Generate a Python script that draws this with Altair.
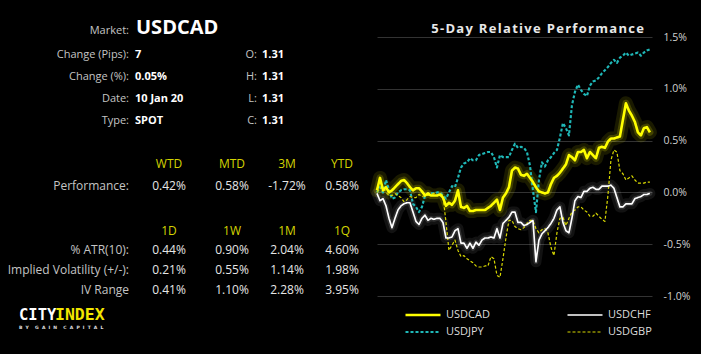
import altair as alt
import pandas as pd

# ---------------- data ----------------
SERIES = ["USDCAD", "USDCHF", "USDJPY", "USDGBP"]
LEGEND_ORDER = ["USDCAD", "USDJPY", "USDCHF", "USDGBP"]   # column-major fill

CAD = [0.02, 0.14, 0.02, 0.05, 0.00, 0.02, 0.05, 0.08, 0.11, 0.12,
       0.09, 0.05, 0.02, 0.04, 0.04, 0.01, -0.03, -0.01, -0.03, -0.03,
       -0.03, -0.02, -0.05, -0.13, -0.10, -0.12, -0.08, 0.02, -0.14, -0.15,
       -0.13, -0.18, -0.18, -0.17, -0.17, -0.17, -0.17, -0.15, -0.13, -0.10,
       -0.07, -0.17, -0.05, -0.01, 0.05, 0.21, 0.24, 0.23, 0.17, 0.16,
       0.18, 0.14, 0.10, 0.05, 0.01, 0.00, -0.01, 0.00, 0.08, 0.14,
       0.16, 0.19, 0.23, 0.27, 0.36, 0.34, 0.31, 0.39, 0.39, 0.41,
       0.33, 0.39, 0.36, 0.33, 0.43, 0.44, 0.43, 0.49, 0.52, 0.52,
       0.53, 0.54, 0.70, 0.86, 0.79, 0.74, 0.68, 0.58, 0.55, 0.62,
       0.63, 0.58]

CHF = [-0.01, -0.08, -0.06, -0.13, -0.25, -0.34, -0.25, -0.17, -0.13, -0.11,
       -0.10, -0.10, -0.19, -0.28, -0.31, -0.25, -0.22, -0.27, -0.25, -0.26,
       -0.25, -0.25, -0.29, -0.44, -0.44, -0.43, -0.37, -0.35, -0.49, -0.49,
       -0.54, -0.49, -0.54, -0.48, -0.51, -0.46, -0.44, -0.44, -0.43, -0.44,
       -0.35, -0.44, -0.30, -0.27, -0.24, -0.19, -0.19, -0.29, -0.29, -0.32,
       -0.31, -0.29, -0.27, -0.67, -0.46, -0.40, -0.37, -0.34, -0.30, -0.25,
       -0.17, -0.14, -0.29, -0.37, -0.39, -0.25, -0.08, -0.04, -0.05, 0.01,
       0.01, 0.04, 0.05, 0.03, 0.03, 0.06, 0.06, 0.06, 0.07, 0.04,
       -0.05, -0.14, -0.14, -0.11, -0.11, -0.11, -0.06, -0.05, -0.04, -0.02,
       -0.02, -0.01]

JPY = [0.00, 0.05, 0.00, 0.12, 0.02, -0.06, -0.05, 0.00, 0.02, 0.03,
       0.03, 0.02, -0.11, -0.14, -0.19, -0.14, -0.03, -0.01, -0.01, -0.01,
       0.00, 0.00, -0.03, -0.06, 0.00, 0.06, 0.05, 0.14, 0.24, 0.28,
       0.29, 0.33, 0.31, 0.31, 0.36, 0.37, 0.38, 0.39, 0.39, 0.34,
       0.24, 0.36, 0.34, 0.34, 0.34, 0.41, 0.47, 0.43, 0.44, 0.43,
       0.39, 0.26, 0.02, -0.19, 0.12, 0.29, 0.25, 0.31, 0.34, 0.38,
       0.41, 0.53, 0.67, 0.62, 0.55, 0.84, 0.97, 1.04, 0.99, 0.95,
       0.93, 1.03, 1.07, 1.08, 1.11, 1.15, 1.18, 1.21, 1.25, 1.28,
       1.25, 1.30, 1.32, 1.35, 1.32, 1.33, 1.34, 1.35, 1.32, 1.35,
       1.37, 1.38]

GBP = [0.00, 0.04, 0.05, 0.00, -0.03, -0.03, -0.01, -0.03, -0.05, -0.09,
       -0.07, -0.04, -0.05, -0.05, -0.02, -0.04, -0.03, -0.03, -0.02, -0.01,
       -0.03, -0.01, -0.03, -0.29, -0.56, -0.51, -0.46, -0.56, -0.62, -0.61,
       -0.64, -0.66, -0.68, -0.71, -0.72, -0.72, -0.71, -0.71, -0.62, -0.64,
       -0.80, -0.82, -0.64, -0.44, -0.27, -0.27, -0.33, -0.35, -0.36, -0.34,
       -0.30, -0.27, -0.27, -0.35, -0.39, -0.36, -0.35, -0.39, -0.53, -0.61,
       -0.39, -0.25, -0.24, -0.32, -0.25, -0.19, -0.17, -0.14, -0.14, -0.17,
       -0.19, -0.23, -0.23, -0.20, -0.23, -0.26, -0.28, -0.03, 0.31, 0.41,
       0.39, 0.21, 0.18, 0.12, 0.14, 0.16, 0.12, 0.09, 0.09, 0.09,
       0.10, 0.10]

Y_TICKS = [-1.0, -0.5, 0.0, 0.5, 1.0, 1.5]

TITLE = "5-Day Relative Performance"
MARKET = "USDCAD"
INFO_LABELS = ["Change (Pips):", "Change (%):", "Date:", "Type:"]
INFO_VALUES = ["7", "0.05%", "10 Jan 20", "SPOT"]
OHLC_LABELS = ["O:", "H:", "L:", "C:"]
OHLC_VALUES = ["1.31", "1.31", "1.31", "1.31"]
PERF_HEADERS = ["WTD", "MTD", "3M", "YTD"]
PERF_VALUES = ["0.42%", "0.58%", "-1.72%", "0.58%"]
VOL_HEADERS = ["1D", "1W", "1M", "1Q"]
VOL_LABELS = ["% ATR(10):", "Implied Volatility (+/-):", "IV Range"]
VOL_VALUES = [["0.44%", "0.90%", "2.04%", "4.60%"],
              ["0.21%", "0.55%", "1.14%", "1.98%"],
              ["0.41%", "1.10%", "2.28%", "3.95%"]]
LOGO_A, LOGO_B = "CITY", "INDEX"
LOGO_SUB = "BY GAIN CAPITAL"

# ---------------- styles / layout ----------------
STYLE = {  # colour, dash, width per series
    "USDCAD": ("#ffff00", [1, 0], 2.6),
    "USDCHF": ("#ffffff", [1, 0], 1.3),
    "USDJPY": ("#1fb8b8", [3, 2], 1.2),
    "USDGBP": ("#d8d800", [3, 2], 1.2),
}

OX, OY = 377, 37          # plot origin on the page
PW, PH = 275, 259         # plot size
FONT = "Open Sans"
GREY = "#c4c4c4"
HEAD = "#d4d400"

rows = []
for name, vals in zip(SERIES, [CAD, CHF, JPY, GBP]):
    for i, v in enumerate(vals):
        rows.append({"t": i, "pct": v, "pair": name})
df = pd.DataFrame(rows)

x_enc = alt.X("t:Q", scale=alt.Scale(domain=[0, 91.7], nice=False, zero=False), axis=None)
y_enc = alt.Y(
    "pct:Q",
    scale=alt.Scale(domain=[-1.0, 1.5], nice=False, zero=False),
    axis=alt.Axis(
        orient="right", values=Y_TICKS, title=None,
        labelExpr="(datum.value < 0 ? '-' : '') + format(abs(datum.value), '.1f') + '%'",
        grid=True, gridColor="#333333", gridWidth=1,
        domain=False, ticks=False, labelPadding=11,
        labelColor="#d0d0d0", labelFontSize=10.5, labelFont=FONT,
    ),
)

color_enc = alt.Color(
    "pair:N",
    scale=alt.Scale(domain=LEGEND_ORDER, range=[STYLE[s][0] for s in LEGEND_ORDER]),
    legend=alt.Legend(
        orient="none", legendX=27, legendY=271, columns=2, padding=0,
        columnPadding=76, rowPadding=3, symbolType="stroke", clipHeight=14,
        symbolSize=1225, labelColor="#dddddd", labelFontSize=11,
        labelFont=FONT, title=None, labelOffset=4,
    ),
)
dash_enc = alt.StrokeDash("pair:N", scale=alt.Scale(domain=LEGEND_ORDER, range=[STYLE[s][1] for s in LEGEND_ORDER]))
width_enc = alt.StrokeWidth("pair:N", scale=alt.Scale(domain=LEGEND_ORDER, range=[STYLE[s][2] for s in LEGEND_ORDER]))

base = alt.Chart(df)


def halo(pair, color, width, opacity):
    return base.transform_filter(alt.datum.pair == pair).mark_line(
        color=color, strokeWidth=width, opacity=opacity,
        strokeJoin="round", strokeCap="round",
    ).encode(x=x_enc, y=y_enc)


def series_layer(pair):
    return base.transform_filter(alt.datum.pair == pair).mark_line(
        strokeJoin="round"
    ).encode(x=x_enc, y=y_enc, color=color_enc, strokeDash=dash_enc, strokeWidth=width_enc)


def txt(s, px, py, size, color, weight="normal", align="left", font=FONT):
    return alt.Chart(alt.Data(values=[{"k": 0}])).mark_text(
        align=align, baseline="alphabetic", font=font, fontSize=size,
        fontWeight=weight, color=color,
    ).encode(x=alt.value(px - OX), y=alt.value(py - OY), text=alt.value(s))


layers = [
    halo("USDCHF", "#ffffff", 11, 0.07),
    halo("USDCHF", "#ffffff", 5, 0.12),
    halo("USDCAD", "#ffff00", 14, 0.10),
    halo("USDCAD", "#ffff00", 7, 0.18),
    series_layer("USDJPY"),
    series_layer("USDGBP"),
    series_layer("USDCHF"),
    series_layer("USDCAD"),
]

texts = []
# chart title (letter-spaced with hair spaces)
texts.append(txt("\u200a".join(TITLE), 644, 33, 13, "#e8e8e8", "bold", "right"))
# market block
texts.append(txt("Market:", 129, 34, 11, GREY, align="right"))
texts.append(txt(MARKET, 136, 34, 20, "#ffffff", "bold"))
info_y = [58, 80, 102, 124]
for lab, val, yy in zip(INFO_LABELS, INFO_VALUES, info_y):
    texts.append(txt(lab, 129, yy, 11, GREY, align="right"))
    texts.append(txt(val, 135, yy, 11, "#ffffff", "bold"))
for lab, val, yy in zip(OHLC_LABELS, OHLC_VALUES, info_y):
    texts.append(txt(lab, 257, yy, 11, GREY, align="right"))
    texts.append(txt(val, 262, yy, 11, "#ffffff", "bold"))
# performance table
col_x = [169, 232, 287, 342]
for h, cx in zip(PERF_HEADERS, col_x):
    texts.append(txt(h, cx, 168, 12, HEAD, align="center"))
texts.append(txt("Performance:", 129, 190, 12, GREY, align="right"))
for v, cx in zip(PERF_VALUES, col_x):
    texts.append(txt(v, cx, 190, 12, "#e6e6e6", align="center"))
for h, cx in zip(VOL_HEADERS, col_x):
    texts.append(txt(h, cx, 235, 12, HEAD, align="center"))
vol_y = [254, 274, 294]
for lab, vals, yy in zip(VOL_LABELS, VOL_VALUES, vol_y):
    texts.append(txt(lab, 129, yy, 12, GREY, align="right"))
    for v, cx in zip(vals, col_x):
        texts.append(txt(v, cx, yy, 12, "#e6e6e6", align="center"))
# logo
texts.append(txt(LOGO_A, 19, 320, 15.5, "#ffffff", "bold", font="DejaVu Sans Mono"))
texts.append(txt(LOGO_B, 55, 320, 16.5, "#f2e600", "bold", font="DejaVu Sans Mono"))
sub = "\u00a0\u00a0\u00a0\u00a0".join("\u00a0\u00a0".join(w) for w in LOGO_SUB.split(" "))
texts.append(txt(sub, 19, 329, 4.5, "#e0e0e0", "bold", font="DejaVu Sans"))

chart = alt.layer(*layers, *texts).properties(
    width=PW, height=PH,
    padding={"left": OX, "top": OY, "right": 701 - OX - PW, "bottom": 354 - OY - PH},
    autosize=alt.AutoSizeParams(type="none"),
).configure(background="#000000").configure_view(stroke=None)

chart.save("out.html", embed_options={"renderer": "svg", "actions": False})
